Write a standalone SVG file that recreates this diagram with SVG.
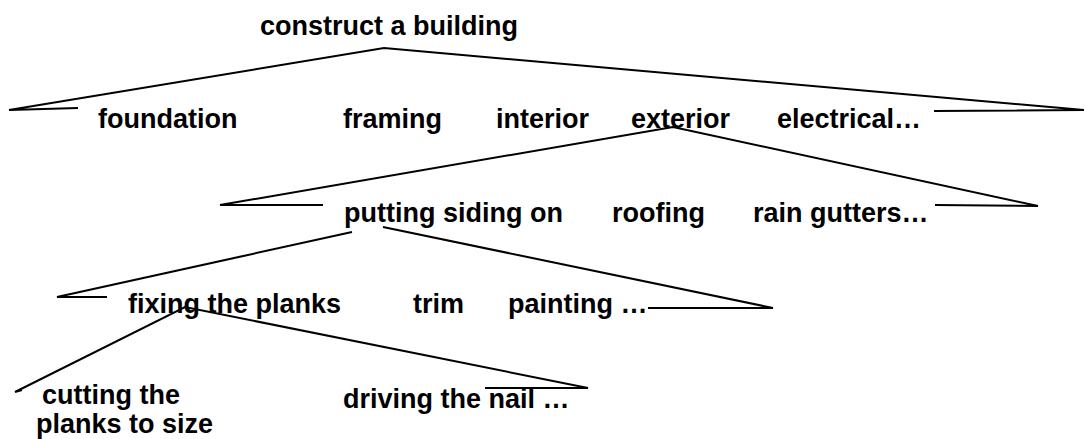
<svg xmlns="http://www.w3.org/2000/svg" width="1086" height="439" viewBox="0 0 1086 439">
  <style>
    .label { font-family: "Liberation Sans", Arial, sans-serif; font-weight: bold; font-size: 27px; fill: #000; }
    .branch { fill: none; stroke: #000; stroke-width: 2; stroke-linejoin: miter; stroke-linecap: butt; }
  </style>
  <rect width="1086" height="439" fill="#fff"/>

  <!-- connectors: each parent spreads a wedge over its children -->
  <g id="connectors">
    <polyline class="branch" points="78,108 9,110 384,48 1084,110 934,111"/>
    <polyline class="branch" points="323,205 220,205 673,127 1038,206 935,205"/>
    <polyline class="branch" points="107,297 57,297 352,232"/>
    <polyline class="branch" points="383,227 773,308 648,308"/>
    <polyline class="branch" points="22,390 15,392 185,307 588,388 485,388"/>
  </g>

  <g id="construct-a-building"><text class="label" x="260" y="35">construct a building</text></g>

  <g id="foundation"><text class="label" x="98" y="128">foundation</text></g>
  <g id="framing"><text class="label" x="343" y="128">framing</text></g>
  <g id="interior"><text class="label" x="496" y="128">interior</text></g>
  <g id="exterior"><text class="label" x="631" y="128">exterior</text></g>
  <g id="electrical"><text class="label" x="777" y="128">electrical…</text></g>

  <g id="putting-siding-on"><text class="label" x="344" y="222">putting siding on</text></g>
  <g id="roofing"><text class="label" x="612" y="222">roofing</text></g>
  <g id="rain-gutters"><text class="label" x="753" y="222">rain gutters…</text></g>

  <g id="fixing-the-planks"><text class="label" x="128" y="313">fixing the planks</text></g>
  <g id="trim"><text class="label" x="413" y="313">trim</text></g>
  <g id="painting"><text class="label" x="508" y="313">painting …</text></g>

  <g id="cutting-the-planks"><text class="label" x="42" y="404">cutting the<tspan x="36" y="433">planks to size</tspan></text></g>
  <g id="driving-the-nail"><text class="label" x="343" y="408">driving the nail …</text></g>
</svg>
